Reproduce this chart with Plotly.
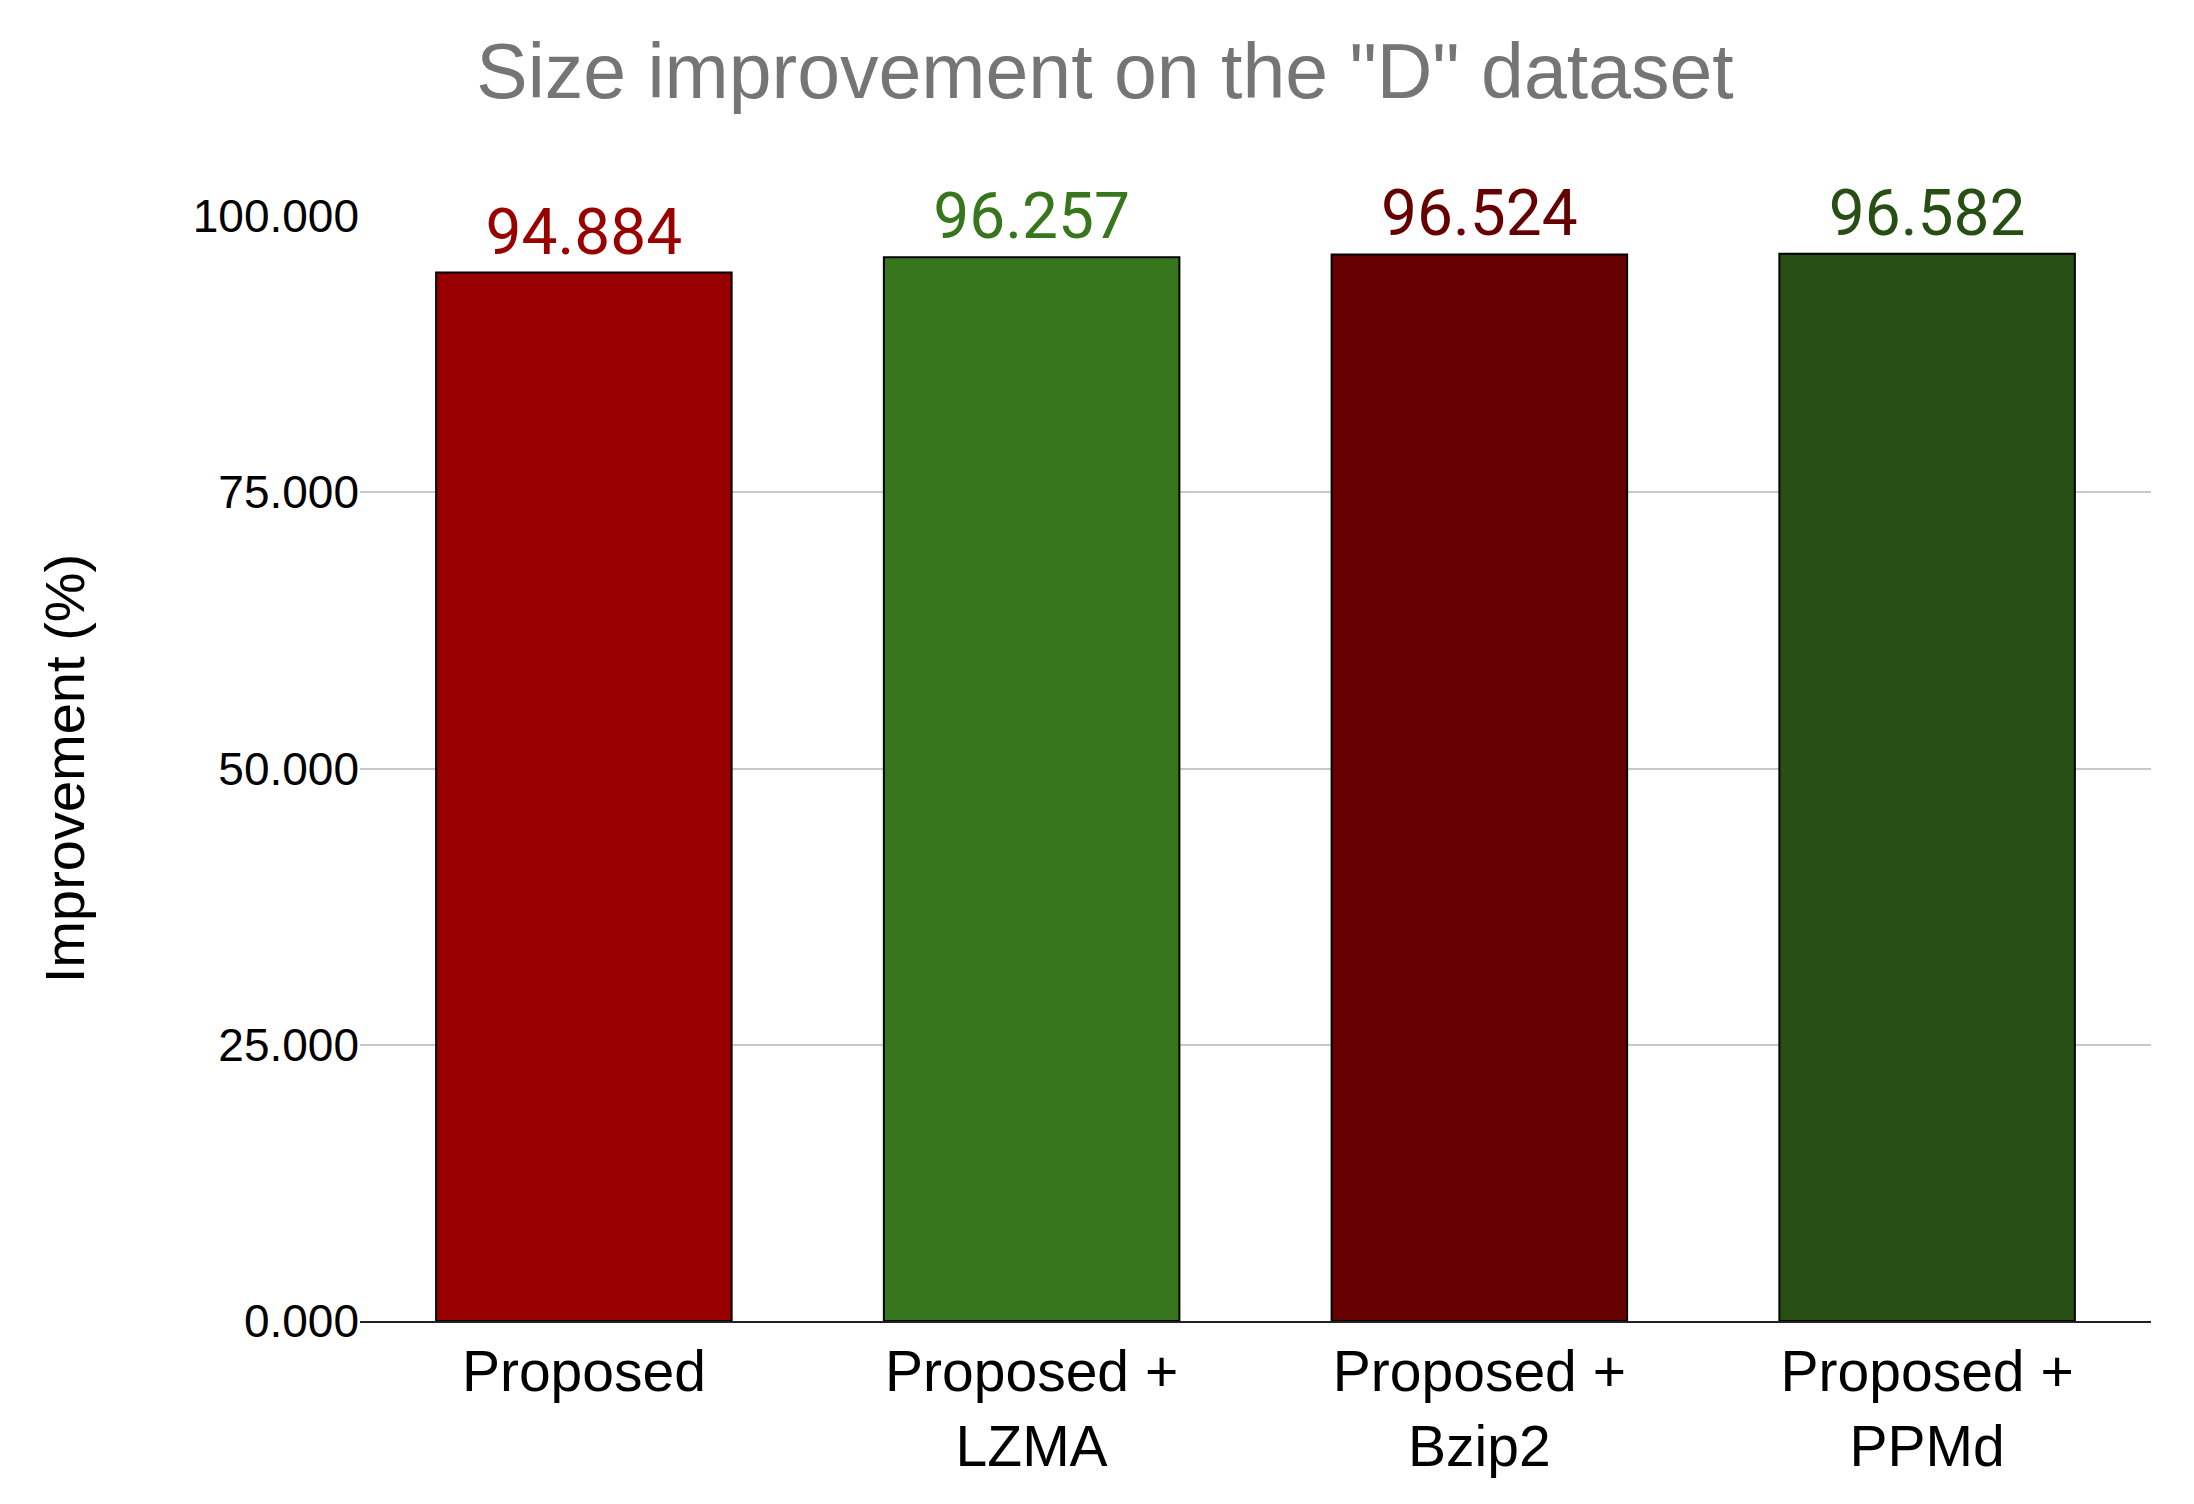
import plotly.graph_objects as go

categories = ["Proposed", "Proposed +<br>LZMA", "Proposed +<br>Bzip2", "Proposed +<br>PPMd"]
values = [94.884, 96.257, 96.524, 96.582]
colors = ["#990000", "#38761d", "#660000", "#274e13"]
tick_vals = [0, 25, 50, 75, 100]
tick_text = ["0.000", "25.000", "50.000", "75.000", "100.000"]

fig = go.Figure(go.Bar(
    x=categories, y=values,
    marker=dict(color=colors, line=dict(color="black", width=2)),
    text=[f"{v:.3f}" for v in values], textposition="outside",
    textfont=dict(color=colors, size=64, family="Roboto"),
    cliponaxis=False, width=0.66,
))
fig.update_layout(
    width=2194, height=1504,
    margin=dict(l=352, r=51, t=208, b=191),
    paper_bgcolor="white", plot_bgcolor="white",
    title=dict(text='Size improvement on the "D" dataset', x=0.5, xanchor="center",
               y=0.958, yanchor="middle",
               font=dict(size=77, color="#757575", family="Liberation Sans")),
    font=dict(family="Liberation Sans", color="black"),
    showlegend=False,
)
fig.update_yaxes(range=[0, 100], tickvals=tick_vals, ticktext=tick_text,
                 showgrid=True, gridcolor="#c8c8c8", gridwidth=2,
                 tickfont=dict(size=46), zeroline=False,
                 title=dict(text="Improvement (%)", font=dict(size=56), standoff=90))
fig.update_xaxes(showline=True, linecolor="#222222", linewidth=2,
                 tickfont=dict(size=57))
fig.write_html("out.html")
